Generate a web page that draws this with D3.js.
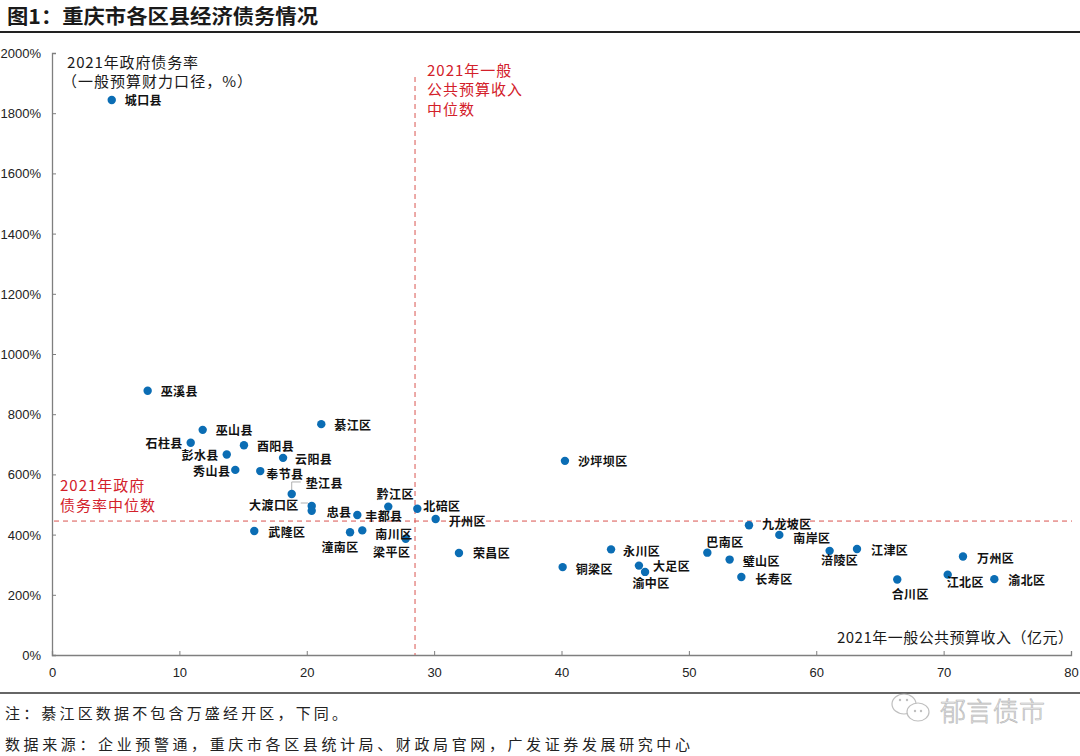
<!DOCTYPE html>
<html><head><meta charset="utf-8">
<script src="https://cdn.jsdelivr.net/npm/d3@7"></script>
<style>
html,body{margin:0;padding:0;background:#fff;}
svg{display:block;}
</style></head>
<body>
<svg id="chart" width="1080" height="756"></svg>
<script>
// ---- data ----
const districts = ["城口县","巫溪县","巫山县","石柱县","酉阳县","彭水县","云阳县","秀山县","奉节县","綦江区",
  "垫江县","大渡口区","忠县","丰都县","黔江区","北碚区","开州区","武隆区","潼南区","南川区",
  "梁平区","荣昌区","沙坪坝区","永川区","铜梁区","大足区","渝中区","巴南区","璧山区","长寿区",
  "九龙坡区","南岸区","涪陵区","江津区","万州区","江北区","渝北区","合川区"];
const revenue = [4.69,7.51,11.83,10.89,15.07,13.72,18.14,14.39,16.35,21.14,
  18.82,20.39,20.39,23.97,26.40,28.68,30.12,15.88,23.40,24.36,
  27.77,31.95,40.27,43.89,40.09,46.08,46.56,51.45,53.20,54.12,
  54.72,57.10,61.05,63.20,71.52,70.32,73.98,66.36];
const debtRatio = [1844,878,748,705,697,666,655,615,611,767,
  535,495,479,465,493,486,452,412,408,414,
  386,339,645,351,292,297,276,340,317,259,
  431,399,346,352,327,267,252,251];
const medianRevenue = 28.5;
const medianDebt = 445;
const xTicks = [0,10,20,30,40,50,60,70,80];
const yTicks = [0,200,400,600,800,1000,1200,1400,1600,1800,2000];

// ---- label layout (dx, dy, anchor) ----
const labelLayout = {
  "城口县":[13,0,"start"],"巫溪县":[13,0,"start"],"巫山县":[13,0,"start"],"石柱县":[-8,0,"end"],
  "酉阳县":[13,0,"start"],"彭水县":[-8,0,"end"],"云阳县":[12,1,"start"],"秀山县":[-5,1,"end"],
  "奉节县":[6,2,"start"],"綦江区":[13,0,"start"],"垫江县":[14,-11,"start"],"大渡口区":[-13,-2,"end"],
  "忠县":[15,1,"start"],"丰都县":[8,0,"start"],"黔江区":[7,-13,"middle"],"北碚区":[6,-3,"start"],
  "开州区":[13,2,"start"],"武隆区":[14,1,"start"],"潼南区":[-10,14,"middle"],"南川区":[13,3,"start"],
  "梁平区":[-14,13,"middle"],"荣昌区":[14,0,"start"],"沙坪坝区":[13,0,"start"],"永川区":[12,1,"start"],
  "铜梁区":[13,1,"start"],"大足区":[14,0,"start"],"渝中区":[6,11,"middle"],"巴南区":[-1,-11,"start"],
  "璧山区":[13,1,"start"],"长寿区":[14,1,"start"],"九龙坡区":[13,-2,"start"],"南岸区":[14,3,"start"],
  "涪陵区":[10,9,"middle"],"江津区":[14,0,"start"],"万州区":[14,1,"start"],"江北区":[-1,7,"start"],
  "渝北区":[14,0,"start"],"合川区":[13,14,"middle"]
};
const leaders = {
  "垫江县":[[0,-4],[0,-12],[9,-12]],
  "大渡口区":[[-11,-3],[-4,-3],[-1,-1]]
};

const svg = d3.select("#chart");
const CJK = "'Noto Sans CJK SC','Noto Sans',sans-serif";
const LAT = "'Liberation Sans',Arial,sans-serif";
const RED = "#d3202a";

// title
svg.append("text").attr("x",7).attr("y",15).attr("dominant-baseline","central")
  .attr("font-family",CJK).attr("font-weight",700).attr("font-size",20).attr("fill","#1a1a1a")
  .attr("textLength",311).attr("lengthAdjust","spacingAndGlyphs")
  .text("图1：重庆市各区县经济债务情况");
svg.append("line").attr("x1",0).attr("x2",1080).attr("y1",32).attr("y2",32)
  .attr("stroke","#222").attr("stroke-width",2);

const x = d3.scaleLinear().domain([0,80]).range([52,1071]);
const y = d3.scaleLinear().domain([0,2000]).range([655,53]);

// axes
const axisColor = "#7f7f7f";
const gx = svg.append("g").attr("transform","translate(0,655)")
  .call(d3.axisBottom(x).tickValues(xTicks).tickSize(-4).tickPadding(10).tickFormat(d3.format("d")));
const gy = svg.append("g").attr("transform","translate(52,0)")
  .call(d3.axisLeft(y).tickValues(yTicks).tickSize(-4).tickPadding(11).tickFormat(d=>d+"%"));
[gx,gy].forEach(g=>{
  g.select(".domain").attr("stroke",axisColor).attr("stroke-width",1.3);
  g.selectAll(".tick line").attr("stroke",axisColor).attr("stroke-width",1);
  g.selectAll(".tick text").attr("font-family",LAT).attr("font-size",13).attr("fill","#222");
});
gy.selectAll(".tick text").attr("dy","0.35em");
gx.selectAll(".tick text").attr("dy","0.9em");

// median lines
svg.append("line").attr("x1",x(medianRevenue)).attr("x2",x(medianRevenue))
  .attr("y1",77).attr("y2",y(0))
  .attr("stroke","#d9534f").attr("stroke-width",1).attr("stroke-dasharray","5,4");
svg.append("line").attr("x1",x(0)+2).attr("x2",1072)
  .attr("y1",y(medianDebt)).attr("y2",y(medianDebt))
  .attr("stroke","#d9534f").attr("stroke-width",1).attr("stroke-dasharray","5,4");

// red annotations
const ann1 = ["2021年一般","公共预算收入","中位数"];
ann1.forEach((t,i)=>{
  svg.append("text").attr("x",x(medianRevenue)+12).attr("y",69+i*19.5).attr("dominant-baseline","central")
    .attr("font-family",CJK).attr("font-size",15).attr("fill",RED).attr("letter-spacing",1).text(t);
});
const ann2 = ["2021年政府","债务率中位数"];
ann2.forEach((t,i)=>{
  svg.append("text").attr("x",60).attr("y",y(medianDebt)-37+i*20).attr("dominant-baseline","central")
    .attr("font-family",CJK).attr("font-size",15).attr("fill",RED).attr("letter-spacing",1).text(t);
});

// axis titles
svg.append("text").attr("x",67).attr("y",61).attr("dominant-baseline","central")
  .attr("font-family",CJK).attr("font-size",15).attr("fill","#1a1a1a")
  .attr("textLength",131).attr("lengthAdjust","spacing").text("2021年政府债务率");
svg.append("text").attr("x",62).attr("y",80).attr("dominant-baseline","central")
  .attr("font-family",CJK).attr("font-size",15).attr("fill","#1a1a1a")
  .attr("textLength",190).attr("lengthAdjust","spacing").text("（一般预算财力口径，%）");
svg.append("text").attr("x",1073).attr("y",636).attr("dominant-baseline","central").attr("text-anchor","end")
  .attr("font-family",CJK).attr("font-size",15).attr("fill","#1a1a1a")
  .attr("textLength",236).attr("lengthAdjust","spacing").text("2021年一般公共预算收入（亿元）");

// data
const data = districts.map((n,i)=>({name:n, x:revenue[i], y:debtRatio[i]}));

// leader lines
data.forEach(d=>{
  const L = leaders[d.name];
  if(!L) return;
  const cx = x(d.x), cy = y(d.y);
  svg.append("polyline").attr("points",L.map(p=>[cx+p[0],cy+p[1]].join(",")).join(" "))
    .attr("fill","none").attr("stroke","#b0b0b0").attr("stroke-width",1);
});

svg.append("g").selectAll("circle").data(data).join("circle")
  .attr("cx",d=>x(d.x)).attr("cy",d=>y(d.y)).attr("r",4.2).attr("fill","#0b6db4");

svg.append("g").selectAll("text").data(data).join("text")
  .attr("x",d=>x(d.x)+labelLayout[d.name][0])
  .attr("y",d=>y(d.y)+labelLayout[d.name][1])
  .attr("text-anchor",d=>labelLayout[d.name][2])
  .attr("dominant-baseline","central")
  .attr("font-family",CJK).attr("font-weight",700).attr("font-size",12)
  .attr("letter-spacing",0.4).attr("fill","#111")
  .text(d=>d.name);

// bottom rule and notes
svg.append("line").attr("x1",0).attr("x2",1080).attr("y1",693).attr("y2",693)
  .attr("stroke","#333").attr("stroke-width",1.5);
svg.append("text").attr("x",5).attr("y",712).attr("dominant-baseline","central")
  .attr("font-family",CJK).attr("font-size",15).attr("fill","#222")
  .attr("textLength",342).attr("lengthAdjust","spacing")
  .text("注：綦江区数据不包含万盛经开区，下同。");
svg.append("text").attr("x",5).attr("y",743).attr("dominant-baseline","central")
  .attr("font-family",CJK).attr("font-size",15).attr("fill","#222")
  .attr("textLength",685).attr("lengthAdjust","spacing")
  .text("数据来源：企业预警通，重庆市各区县统计局、财政局官网，广发证券发展研究中心");

// watermark
const wm = svg.append("g").attr("opacity",0.75);
wm.append("ellipse").attr("cx",904).attr("cy",704).attr("rx",12).attr("ry",10)
  .attr("fill","#fff").attr("stroke","#aaa").attr("stroke-width",1.2);
wm.append("ellipse").attr("cx",918).attr("cy",712).attr("rx",11).attr("ry",9)
  .attr("fill","#fff").attr("stroke","#aaa").attr("stroke-width",1.2);
[[900,700],[907,700],[915,711],[921,711]].forEach(p=>{
  wm.append("circle").attr("cx",p[0]).attr("cy",p[1]).attr("r",1.2).attr("fill","#aaa");
});
wm.append("text").attr("x",940).attr("y",709).attr("dominant-baseline","central")
  .attr("font-family",CJK).attr("font-size",26).attr("font-weight",300)
  .attr("fill","#e6e6e6").attr("stroke","#9a9a9a").attr("stroke-width",0.6)
  .attr("textLength",105).attr("lengthAdjust","spacing").text("郁言债市");
</script>
</body></html>
